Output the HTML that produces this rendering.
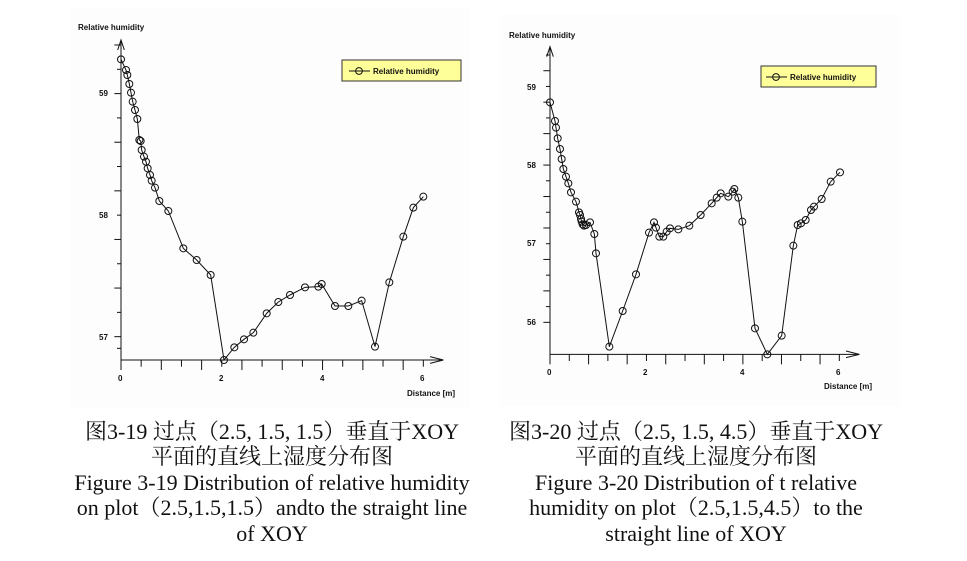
<!DOCTYPE html>
<html><head><meta charset="utf-8"><style>
html,body{margin:0;padding:0;background:#fff;width:967px;height:561px;overflow:hidden}
svg{position:absolute;left:0;top:0}
.cap{font-family:"Liberation Serif","Noto Serif CJK SC",serif;font-size:22px;fill:#111}
.lab{font-family:"Liberation Sans",sans-serif;font-size:8px;font-weight:bold;fill:#111}
</style></head><body>
<svg id="s" width="967" height="561" xmlns="http://www.w3.org/2000/svg">
<rect x="70" y="8" width="400" height="400" fill="#fdfdfd"/>
<rect x="500" y="14" width="400" height="392" fill="#fdfdfd"/>
<g id="L" transform="translate(70,10) scale(0.3333333)" fill="none" stroke="#111"></g>
<g id="R" transform="translate(500,15) scale(0.3333333)" fill="none" stroke="#111"></g>
<text class="lab" x="78" y="30">Relative humidity</text>
<text class="lab" x="99" y="96">59</text>
<text class="lab" x="99" y="218">58</text>
<text class="lab" x="99" y="340">57</text>
<text class="lab" x="118" y="381">0</text>
<text class="lab" x="219" y="381">2</text>
<text class="lab" x="320" y="381">4</text>
<text class="lab" x="420" y="381">6</text>
<text class="lab" x="407" y="396">Distance [m]</text>
<rect x="342" y="60" width="119" height="21" fill="#ffff99" stroke="#333" stroke-width="1"/>
<line x1="349" y1="71" x2="370" y2="71" stroke="#111"/><circle cx="359" cy="71" r="3.4" fill="none" stroke="#111"/>
<text class="lab" x="373" y="74">Relative humidity</text>
<text class="lab" x="509" y="38">Relative humidity</text>
<text class="lab" x="527" y="90">59</text>
<text class="lab" x="527" y="168">58</text>
<text class="lab" x="527" y="246">57</text>
<text class="lab" x="527" y="325">56</text>
<text class="lab" x="547" y="375">0</text>
<text class="lab" x="643" y="375">2</text>
<text class="lab" x="740" y="375">4</text>
<text class="lab" x="836" y="375">6</text>
<text class="lab" x="824" y="389">Distance [m]</text>
<rect x="761" y="66" width="115" height="21" fill="#ffff99" stroke="#333" stroke-width="1"/>
<line x1="766" y1="77" x2="787" y2="77" stroke="#111"/><circle cx="776" cy="77" r="3.4" fill="none" stroke="#111"/>
<text class="lab" x="790" y="80">Relative humidity</text>
<g class="cap" text-anchor="middle">
<text x="272" y="439">图3-19 过点（2.5, 1.5, 1.5）垂直于XOY</text>
<text x="272" y="464">平面的直线上湿度分布图</text>
<text x="272" y="490">Figure 3-19 Distribution of relative humidity</text>
<text x="272" y="515">on plot（2.5,1.5,1.5）andto the straight line</text>
<text x="272" y="541">of XOY</text>
<text x="696" y="439">图3-20 过点（2.5, 1.5, 4.5）垂直于XOY</text>
<text x="696" y="464">平面的直线上湿度分布图</text>
<text x="696" y="490">Figure 3-20 Distribution of t relative</text>
<text x="696" y="515">humidity on plot（2.5,1.5,4.5）to the</text>
<text x="696" y="541">straight line of XOY</text>
</g>
</svg>
<script>
var NS="http://www.w3.org/2000/svg";
function el(g,t,a){var e=document.createElementNS(NS,t);for(var k in a)e.setAttribute(k,a[k]);e.setAttribute("vector-effect","non-scaling-stroke");g.appendChild(e);return e;}
function chart(id,ox,oy,top,xend,yt,xt,pts){
 var g=document.getElementById(id);
 el(g,"line",{x1:ox,y1:oy,x2:ox,y2:top});
 el(g,"polyline",{points:(ox-10)+","+(top+30)+" "+ox+","+top+" "+(ox+10)+","+(top+30)});
 el(g,"line",{x1:ox,y1:oy,x2:xend,y2:oy});
 el(g,"polyline",{points:(xend-40)+","+(oy-10)+" "+xend+","+oy+" "+(xend-40)+","+(oy+10)});
 yt.forEach(function(y,i){el(g,"line",{x1:ox-(i%2?12:20),y1:y,x2:ox,y2:y});});
 xt.forEach(function(x,i){el(g,"line",{x1:x,y1:oy,x2:x,y2:oy+(i%2?20:30)});});
 el(g,"polyline",{points:pts.map(function(p){return p.join(",")}).join(" ")});
 pts.forEach(function(p){el(g,"circle",{cx:p[0],cy:p[1],r:10.5});});
}
function rng(a,b,n){var r=[];for(var i=0;i<=n;i++)r.push(a+(b-a)*i/n);return r;}
chart("L",153,1050,90,1120,rng(980,105,12).concat([1050-35]),rng(153,1060,15),
[[153,148],[168,180],[172,195],[178,222],[183,248],[188,275],[195,300],[202,327],[208,390],[212,393],[215,420],[222,440],[228,455],[233,475],[240,495],[245,512],[255,533],[268,573],[295,603],[340,715],[380,750],[422,795],[462,1050],[493,1012],[522,988],[550,968],[590,910],[625,876],[660,855],[705,832],[745,830],[755,822],[795,888],[835,888],[875,872],[915,1010],[958,817],[1000,680],[1030,593],[1060,560]]);
chart("R",150,1018,95,1078,rng(922,120,17),rng(150,1018,15),
[[150,262],[165,318],[168,338],[173,370],[180,402],[185,432],[190,462],[198,485],[205,505],[213,532],[228,560],[237,592],[240,600],[243,612],[245,620],[248,628],[252,632],[258,630],[270,622],[283,657],[288,715],[328,995],[368,888],[408,778],[447,653],[462,622],[468,638],[478,665],[490,665],[500,650],[510,640],[535,643],[568,632],[602,600],[635,565],[650,548],[662,535],[685,545],[698,530],[703,522],[715,548],[727,620],[765,940],[802,1018],[845,962],[880,692],[893,630],[903,625],[917,615],[933,585],[942,575],[965,552],[992,500],[1020,472]]);
</script>
</body></html>
